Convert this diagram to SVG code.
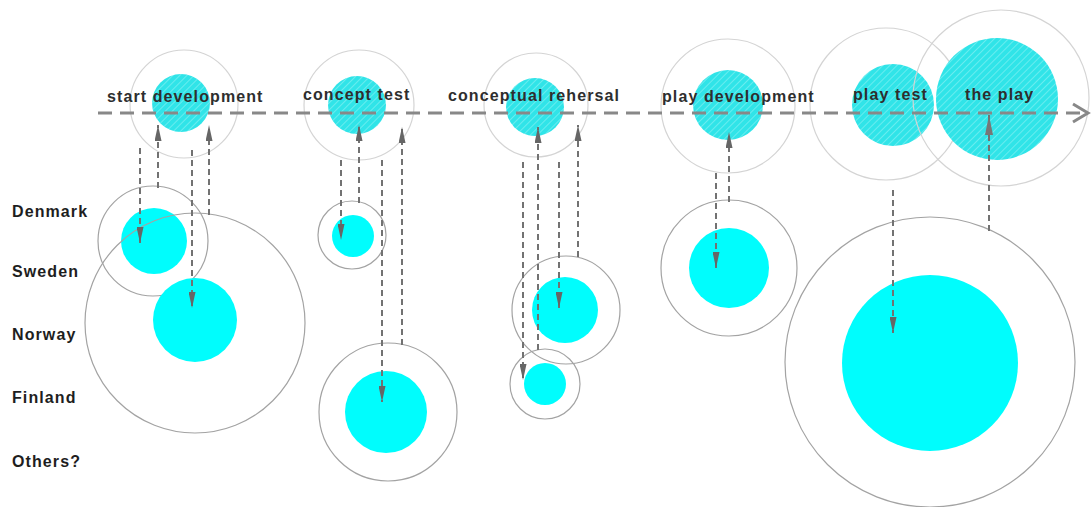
<svg xmlns="http://www.w3.org/2000/svg" width="1091" height="507" viewBox="0 0 1091 507">
<defs>
<style>
.halo{fill:none;stroke:#d4d4d4;stroke-width:1.2}
.ring{fill:none;stroke:#a3a3a3;stroke-width:1.2}
.hatch{fill:url(#hatch)}
.core{fill:#00fdfd}
.phase{font-family:"Liberation Sans",Arial,sans-serif;font-weight:bold;font-size:16px;letter-spacing:1.1px;fill:#2e2e2e}
.country{font-family:"Liberation Sans",Arial,sans-serif;font-weight:bold;font-size:16px;letter-spacing:1.1px;fill:#1e1e1e}
.link{fill:none;stroke:#727272;stroke-width:2;stroke-dasharray:6 4}
.timeline{fill:none;stroke:#888;stroke-width:3;stroke-dasharray:14 8}
</style>
<pattern id="hatch" patternUnits="userSpaceOnUse" width="5" height="5" patternTransform="rotate(45)">
<rect width="5" height="5" fill="#30e4e8"/>
<line x1="0" y1="0" x2="0" y2="5" stroke="#8ff2f4" stroke-width="1.2"/>
</pattern>
<marker id="ah" viewBox="0 0 16 7" refX="16" refY="3.5" markerWidth="16" markerHeight="7" markerUnits="userSpaceOnUse" orient="auto">
<path d="M0,0 L16,3.5 L0,7 z" fill="#666"/>
</marker>
<marker id="ahBig" viewBox="0 0 20 8" refX="20" refY="4" markerWidth="20" markerHeight="8" markerUnits="userSpaceOnUse" orient="auto">
<path d="M0,0 L20,4 L0,8 z" fill="#777"/>
</marker>
</defs>
<rect width="1091" height="507" fill="#fff"/>

<g id="phase-start-development">
<circle class="hatch" cx="181" cy="103" r="29"/>
<circle class="halo" cx="184" cy="104" r="54"/>
</g>
<g id="phase-concept-test">
<circle class="hatch" cx="357" cy="105" r="29"/>
<circle class="halo" cx="359" cy="105" r="55"/>
</g>
<g id="phase-conceptual-rehersal">
<circle class="hatch" cx="535" cy="107" r="29"/>
<circle class="halo" cx="536" cy="105" r="52"/>
</g>
<g id="phase-play-development">
<circle class="hatch" cx="728" cy="105" r="35"/>
<circle class="halo" cx="728" cy="106" r="67"/>
</g>
<g id="phase-play-test">
<circle class="hatch" cx="893" cy="105" r="41"/>
<circle class="halo" cx="886" cy="104" r="76"/>
</g>
<g id="phase-the-play">
<circle class="hatch" cx="997" cy="99" r="61"/>
<circle class="halo" cx="1001" cy="98" r="88"/>
</g>

<g id="start-denmark">
<circle class="core" cx="154" cy="241" r="33"/>
<circle class="ring" cx="153" cy="241" r="55"/>
</g>
<g id="start-norway">
<circle class="core" cx="195" cy="320" r="42"/>
<circle class="ring" cx="195" cy="323" r="110"/>
</g>
<g id="concept-denmark">
<circle class="core" cx="353" cy="236" r="21"/>
<circle class="ring" cx="352" cy="235" r="34"/>
</g>
<g id="concept-finland">
<circle class="core" cx="386" cy="412" r="41"/>
<circle class="ring" cx="388" cy="412" r="69"/>
</g>
<g id="rehersal-sweden">
<circle class="core" cx="565" cy="310" r="33"/>
<circle class="ring" cx="566" cy="310" r="54"/>
</g>
<g id="rehersal-finland">
<circle class="core" cx="545" cy="384" r="21"/>
<circle class="ring" cx="545" cy="384" r="35"/>
</g>
<g id="playdev-sweden">
<circle class="core" cx="729" cy="268" r="40"/>
<circle class="ring" cx="729" cy="268" r="68"/>
</g>
<g id="play-norway">
<circle class="core" cx="930" cy="363" r="88"/>
<circle class="ring" cx="930" cy="362" r="145"/>
</g>

<g id="connectors">
<line class="timeline" x1="98" y1="113" x2="1086" y2="113"/>
<polyline points="1073,104 1088,113 1073,122" fill="none" stroke="#888" stroke-width="3"/>

<line class="link" x1="140" y1="148" x2="140" y2="243" marker-end="url(#ah)"/>
<line class="link" x1="158" y1="188" x2="158" y2="125" marker-end="url(#ah)"/>
<line class="link" x1="192" y1="150" x2="192" y2="308" marker-end="url(#ah)"/>
<line class="link" x1="209" y1="215" x2="209" y2="125" marker-end="url(#ah)"/>

<line class="link" x1="341" y1="160" x2="341" y2="240" marker-end="url(#ah)"/>
<line class="link" x1="359" y1="203" x2="359" y2="125" marker-end="url(#ah)"/>
<line class="link" x1="382" y1="160" x2="382" y2="402" marker-end="url(#ah)"/>
<line class="link" x1="402" y1="345" x2="402" y2="127" marker-end="url(#ah)"/>

<line class="link" x1="523" y1="162" x2="523" y2="380" marker-end="url(#ah)"/>
<line class="link" x1="538" y1="350" x2="538" y2="127" marker-end="url(#ah)"/>
<line class="link" x1="559" y1="162" x2="559" y2="308" marker-end="url(#ah)"/>
<line class="link" x1="578" y1="257" x2="578" y2="125" marker-end="url(#ah)"/>

<line class="link" x1="716" y1="173" x2="716" y2="268" marker-end="url(#ah)"/>
<line class="link" x1="729" y1="202" x2="729" y2="132" marker-end="url(#ah)"/>

<line class="link" x1="893" y1="190" x2="893" y2="333" marker-end="url(#ah)"/>
<line class="link" x1="989" y1="231" x2="989" y2="115" stroke-width="3" stroke-dasharray="10 6" marker-end="url(#ahBig)"/>
</g>

<g id="phase-labels">
<text class="phase" x="107" y="102">start development</text>
<text class="phase" x="303" y="100">concept test</text>
<text class="phase" x="448" y="101">conceptual rehersal</text>
<text class="phase" x="662" y="102">play development</text>
<text class="phase" x="853" y="100">play test</text>
<text class="phase" x="965" y="100">the play</text>
</g>

<g id="country-labels">
<text class="country" x="12" y="217">Denmark</text>
<text class="country" x="12" y="277">Sweden</text>
<text class="country" x="12" y="340">Norway</text>
<text class="country" x="12" y="403">Finland</text>
<text class="country" x="12" y="467">Others?</text>
</g>
</svg>
